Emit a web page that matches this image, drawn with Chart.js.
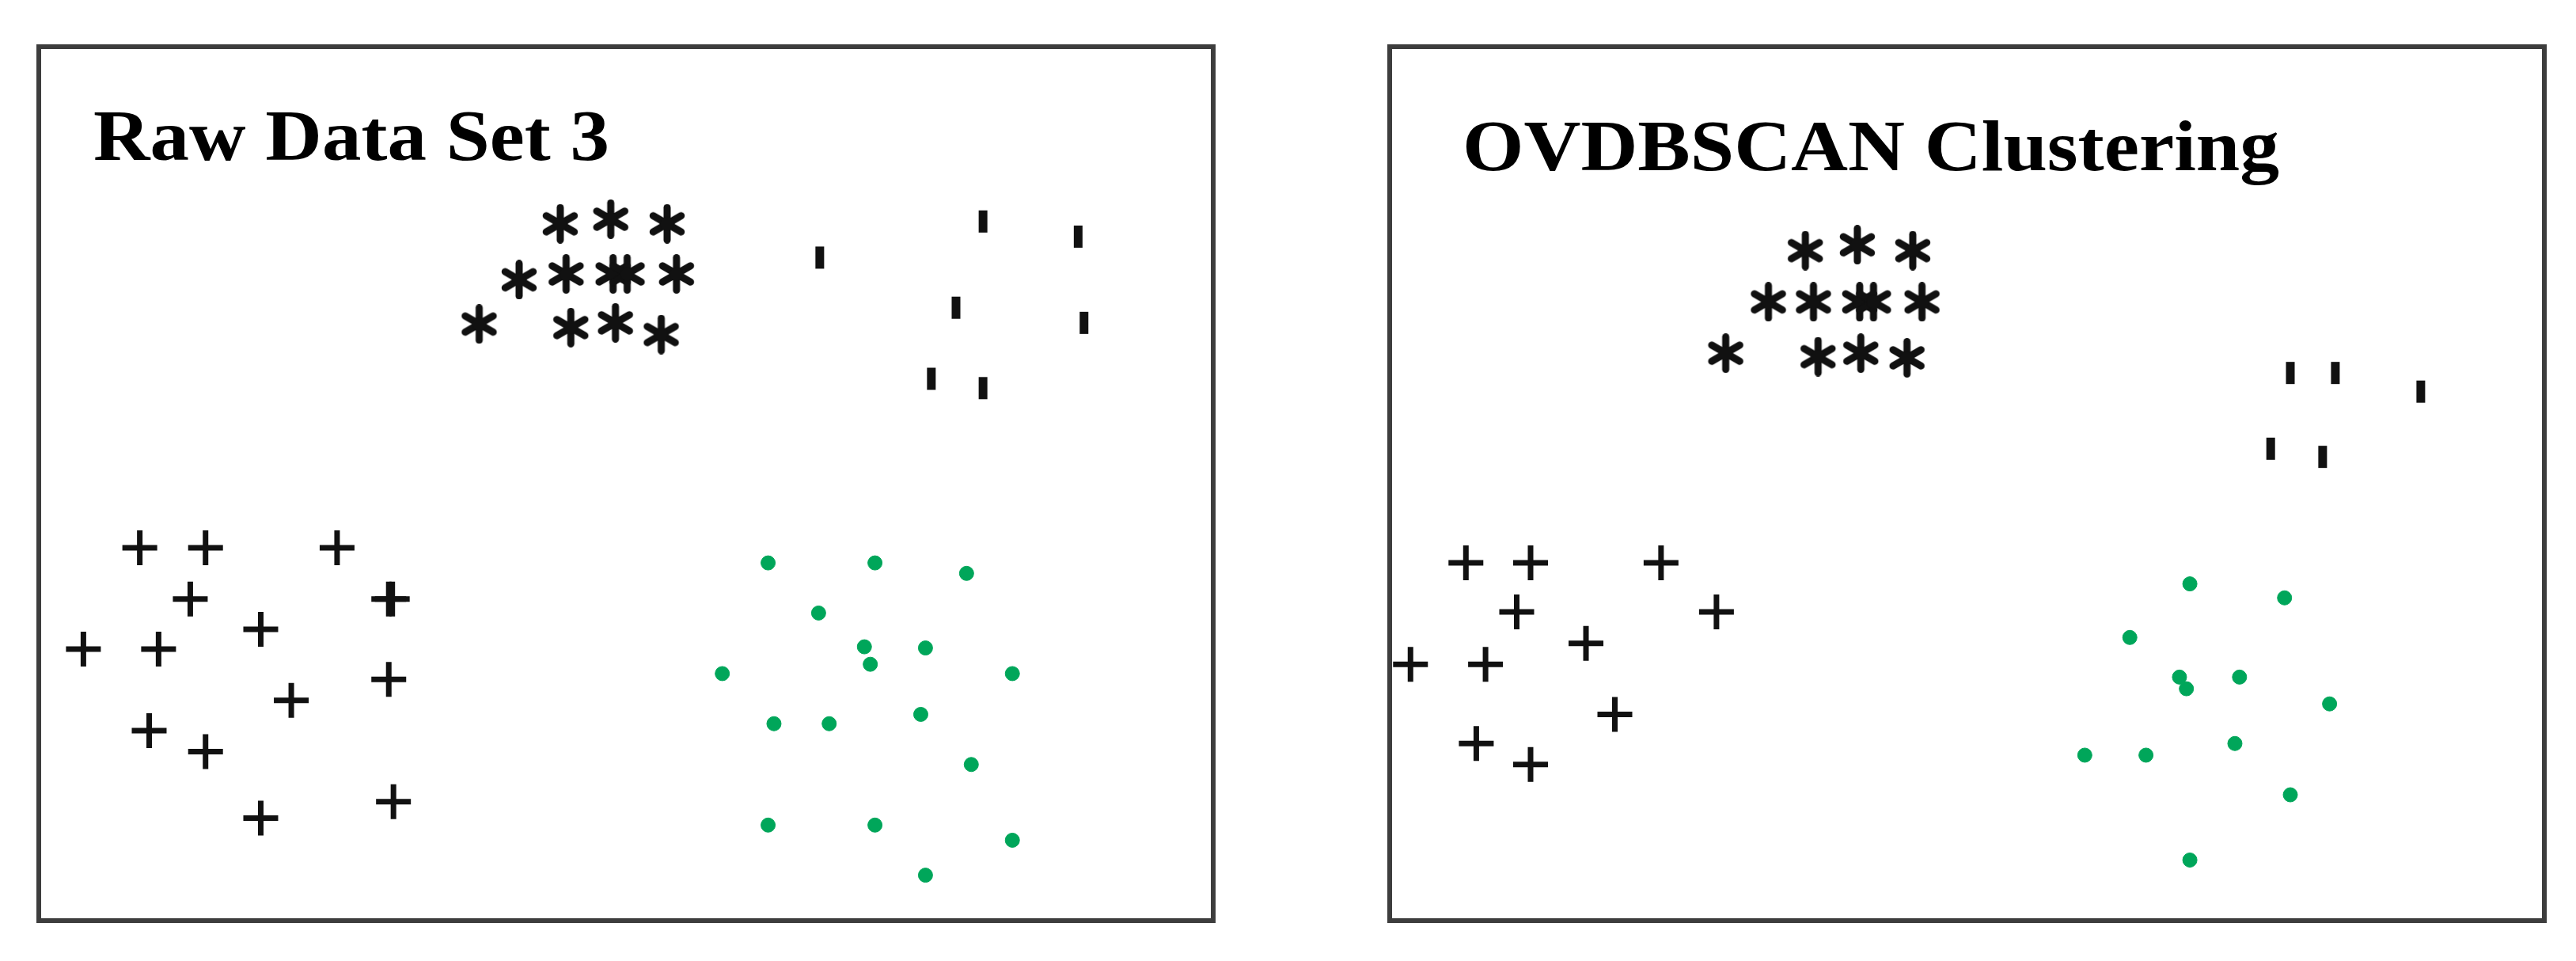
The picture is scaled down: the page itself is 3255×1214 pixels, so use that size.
<!DOCTYPE html>
<html>
<head>
<meta charset="utf-8">
<script src="https://cdn.jsdelivr.net/npm/chart.js@4.4.1/dist/chart.umd.min.js"></script>
<style>
    body { margin: 0; background: #fff; width: 3255px; height: 1214px; position: relative; overflow: hidden; }
    .panel { position: absolute; }
    #leftPanel { left: 20px; top: 30px; width: 1542px; height: 1162px; }
    #rightPanel { left: 1727px; top: 30px; width: 1517px; height: 1162px; }
</style>
</head>
<body>
<div class="panel" id="leftPanel"><canvas id="rawChart"></canvas></div>
<div class="panel" id="rightPanel"><canvas id="clusterChart"></canvas></div>
<script>
// Point positions (box spans x 0-100, y 0-75)
const rawAsterisks = [
    [44.4, 59.8], [48.7, 60.2], [53.5, 59.8],
    [40.9, 55.0], [44.9, 55.5], [48.9, 55.5], [50.1, 55.5], [54.3, 55.5],
    [37.5, 51.2], [45.3, 50.9], [49.1, 51.3], [53.0, 50.3]
];
const rawTicks = [
    [66.5, 56.9], [80.4, 60.0], [88.5, 58.7], [78.1, 52.6],
    [89.0, 51.3], [76.0, 46.5], [80.4, 45.7]
];
const rawPluses = [
    [8.6, 32.0], [14.2, 32.0], [25.4, 32.0], [12.9, 27.6], [29.8, 27.6], [30.1, 27.6],
    [18.9, 25.0], [3.8, 23.3], [10.2, 23.3], [21.5, 18.9], [29.8, 20.7],
    [9.4, 16.3], [14.2, 14.5], [18.9, 8.8], [30.2, 10.2]
];
const rawDots = [
    [62.1, 30.7], [71.2, 30.7], [79.0, 29.8], [66.4, 26.4], [70.3, 23.5], [70.8, 22.0],
    [75.5, 23.4], [82.9, 21.2], [58.2, 21.2], [62.6, 16.9], [67.3, 16.9], [75.1, 17.7],
    [79.4, 13.4], [62.1, 8.2], [71.2, 8.2], [82.9, 6.9], [75.5, 3.9]
];

const clusterAsterisks = [
    [36.0, 57.5], [40.5, 58.0], [45.3, 57.5],
    [32.8, 53.1], [36.7, 53.1], [40.7, 53.1], [41.9, 53.1], [46.1, 53.1],
    [29.1, 48.7], [37.1, 48.4], [40.8, 48.7], [44.8, 48.3]
];
const clusterTicks = [
    [78.0, 47.0], [81.9, 47.0], [89.3, 45.4], [76.3, 40.5], [80.8, 39.8]
];
const clusterPluses = [
    [6.6, 30.7], [12.2, 30.7], [23.5, 30.7], [11.0, 26.5], [28.3, 26.5],
    [17.0, 23.8], [1.8, 22.0], [8.3, 22.0], [19.5, 17.7], [7.5, 15.2], [12.2, 13.4]
];
const clusterDots = [
    [69.3, 28.9], [77.5, 27.7], [64.1, 24.3], [68.4, 20.9], [69.0, 19.9], [73.6, 20.9],
    [81.4, 18.6], [60.2, 14.2], [65.5, 14.2], [73.2, 15.2], [78.0, 10.8], [69.3, 5.2]
];

const INK = '#111111';
const GREEN = '#00a65a';

function makeAsterisk(size, lineWidth) {
    const c = document.createElement('canvas');
    c.width = size;
    c.height = size;
    const g = c.getContext('2d');
    g.strokeStyle = INK;
    g.fillStyle = INK;
    g.lineWidth = lineWidth;
    g.lineCap = 'round';
    const r = size / 2 - lineWidth / 2;
    for (let k = 0; k < 3; k++) {
        const a = Math.PI / 2 + k * Math.PI / 3;
        g.beginPath();
        g.moveTo(size / 2 + r * Math.cos(a), size / 2 + r * Math.sin(a));
        g.lineTo(size / 2 - r * Math.cos(a), size / 2 - r * Math.sin(a));
        g.stroke();
    }
    g.beginPath();
    g.arc(size / 2, size / 2, lineWidth, 0, Math.PI * 2);
    g.fill();
    return c;
}
const asteriskImg = makeAsterisk(50, 9);

function toPoints(list) {
    return list.map(p => ({ x: p[0], y: p[1] }));
}

// frame + title drawn inside the box
const panelDecor = {
    id: 'panelDecor',
    afterDraw(chart, args, opts) {
        const ctx = chart.ctx;
        const area = chart.chartArea;
        ctx.save();
        ctx.strokeStyle = '#3d3d3d';
        ctx.lineWidth = 6;
        ctx.strokeRect(area.left, area.top, area.right - area.left, area.bottom - area.top);

        ctx.fillStyle = '#000';
        ctx.font = 'bold 92px "Liberation Serif"';
        ctx.textBaseline = 'alphabetic';
        const w = ctx.measureText(opts.text).width;
        ctx.translate(opts.x, opts.y);
        ctx.scale(opts.width / w, 1);
        ctx.fillText(opts.text, 0, 0);
        ctx.restore();
    }
};

function buildChart(canvasId, sets, title) {
    const ctx = document.getElementById(canvasId).getContext('2d');
    return new Chart(ctx, {
        type: 'scatter',
        data: {
            datasets: [
                {
                    label: 'asterisk',
                    data: toPoints(sets.asterisks),
                    pointStyle: asteriskImg,
                    pointRadius: 25,
                    clip: false
                },
                {
                    label: 'tick',
                    data: toPoints(sets.ticks),
                    pointStyle: 'line',
                    rotation: 90,
                    pointRadius: 14,
                    borderColor: INK,
                    pointBorderWidth: 11,
                    clip: false
                },
                {
                    label: 'plus',
                    data: toPoints(sets.pluses),
                    pointStyle: 'cross',
                    pointRadius: 22,
                    borderColor: INK,
                    pointBorderWidth: 7,
                    clip: false
                },
                {
                    label: 'dot',
                    data: toPoints(sets.dots),
                    pointStyle: 'circle',
                    pointRadius: 9,
                    backgroundColor: GREEN,
                    borderColor: GREEN,
                    pointBorderWidth: 1,
                    clip: false
                }
            ]
        },
        options: {
            responsive: true,
            maintainAspectRatio: false,
            animation: false,
            layout: { padding: 12 },
            scales: {
                x: { type: 'linear', min: 0, max: 100, display: false },
                y: { type: 'linear', min: 0, max: 75, display: false }
            },
            plugins: {
                legend: { display: false },
                tooltip: { enabled: false },
                panelDecor: title
            }
        },
        plugins: [panelDecor]
    });
}

buildChart('rawChart', {
    asterisks: rawAsterisks,
    ticks: rawTicks,
    pluses: rawPluses,
    dots: rawDots
}, { text: 'Raw Data Set 3', x: 98, y: 172, width: 652 });

buildChart('clusterChart', {
    asterisks: clusterAsterisks,
    ticks: clusterTicks,
    pluses: clusterPluses,
    dots: clusterDots
}, { text: 'OVDBSCAN Clustering', x: 121, y: 185, width: 1032 });
</script>
</body>
</html>
